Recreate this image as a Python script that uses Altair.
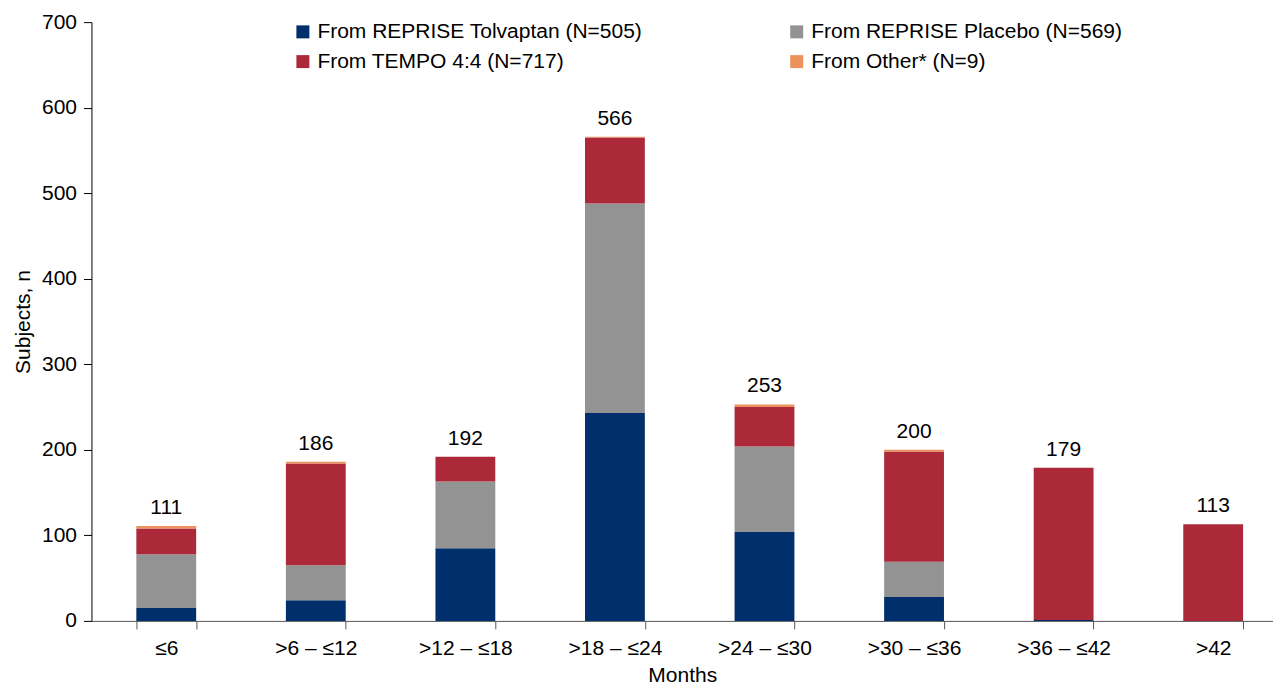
import altair as alt
import pandas as pd

categories = ["≤6", ">6 – ≤12", ">12 – ≤18", ">18 – ≤24", ">24 – ≤30", ">30 – ≤36", ">36 – ≤42", ">42"]
series = ["From REPRISE Tolvaptan (N=505)", "From REPRISE Placebo (N=569)",
          "From TEMPO 4:4 (N=717)", "From Other* (N=9)"]
tolvaptan = [15, 24, 85, 243, 104, 28, 1, 0]
placebo = [63, 41, 78, 245, 100, 41, 0, 0]
tempo = [30, 119, 29, 77, 46, 129, 178, 113]
other = [3, 2, 0, 1, 3, 2, 0, 0]
totals = [111, 186, 192, 566, 253, 200, 179, 113]
colors = ["#002F6C", "#939393", "#AB2939", "#EC935B"]

# legend is filled column by column: list entries so that rows read as in the original
legend_order = [series[0], series[2], series[1], series[3]]
legend_colors = [colors[0], colors[2], colors[1], colors[3]]

rows = []
for si, (name, vals) in enumerate(zip(series, [tolvaptan, placebo, tempo, other])):
    for c, v in zip(categories, vals):
        rows.append({"Months": c, "Series": name, "n": v, "order": si})
df = pd.DataFrame(rows)
tot = pd.DataFrame({"Months": categories, "total": totals})

FONT = "Liberation Sans"
FS = 21

xscale = alt.Scale(domain=categories, paddingInner=0.6, paddingOuter=0.25, align=0.6)

bars = alt.Chart(df).mark_bar().encode(
    x=alt.X("Months:N", sort=categories, scale=xscale,
            axis=alt.Axis(title="Months", labelAngle=0, tickBand="extent",
                          domainColor="#555555", tickColor="#555555", tickSize=8,
                          labelPadding=9, titlePadding=6)),
    y=alt.Y("n:Q", stack="zero",
            scale=alt.Scale(domain=[0, 700], nice=False),
            axis=alt.Axis(title="Subjects, n", values=[0, 100, 200, 300, 400, 500, 600, 700],
                          domainColor="#000000", tickColor="#000000", tickSize=8,
                          labelPadding=7, grid=False, titlePadding=8)),
    color=alt.Color("Series:N",
                    scale=alt.Scale(domain=legend_order, range=legend_colors),
                    legend=alt.Legend(title=None, orient="none", legendX=201, legendY=-1,
                                      columns=2, columnPadding=143, rowPadding=8,
                                      symbolType="square", symbolSize=169,
                                      symbolStrokeWidth=0, labelFontSize=FS,
                                      labelFont=FONT, labelColor="#000000", labelLimit=0,
                                      symbolOffset=0, labelOffset=4)),
    order=alt.Order("order:Q"),
)

labels = alt.Chart(tot).mark_text(fontSize=FS, font=FONT, dy=-12, baseline="alphabetic",
                                  color="#000000").encode(
    x=alt.X("Months:N", sort=categories, scale=xscale),
    y=alt.Y("total:Q"),
    text=alt.Text("total:Q"),
)

chart = alt.layer(bars, labels).properties(
    width=1182, height=599,
    padding={"left": 3.5, "top": 3, "right": 0, "bottom": 0},
).configure_view(stroke=None).configure_axis(
    labelFont=FONT, titleFont=FONT, labelFontSize=FS, titleFontSize=FS,
    labelColor="#000000", titleColor="#000000", titleFontWeight="normal",
)

chart.save("out.html", embed_options={"renderer": "svg", "actions": False})
